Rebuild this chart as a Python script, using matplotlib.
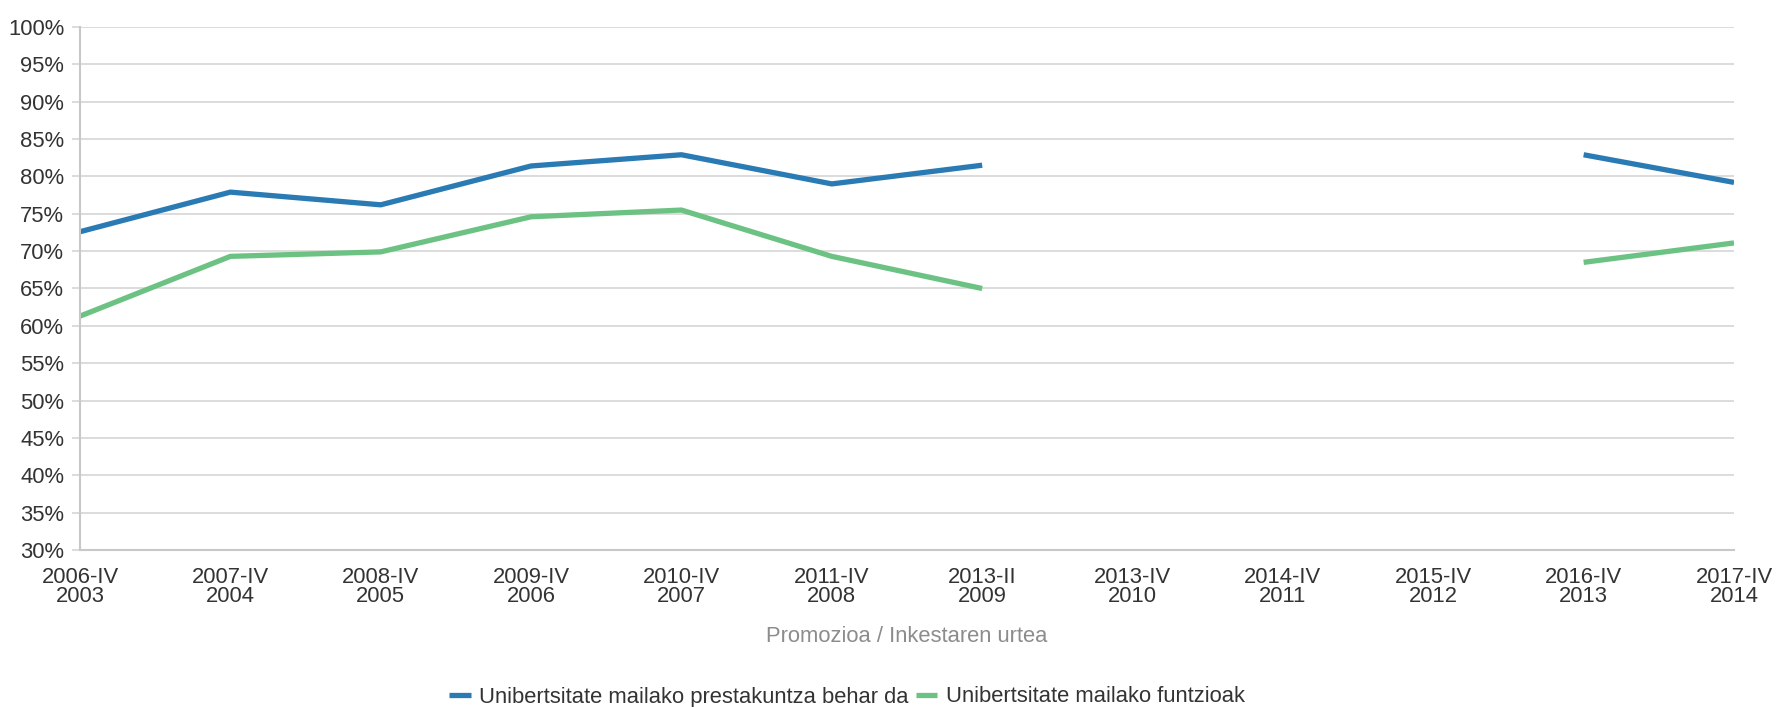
import numpy as np
import matplotlib
matplotlib.use("Agg")
import matplotlib.pyplot as plt
from matplotlib.ticker import PercentFormatter

plt.rcParams['font.family'] = ['Liberation Sans', 'DejaVu Sans']

# data (NaN = no survey value)
categories = ["2006-IV\n2003", "2007-IV\n2004", "2008-IV\n2005", "2009-IV\n2006",
              "2010-IV\n2007", "2011-IV\n2008", "2013-II\n2009", "2013-IV\n2010",
              "2014-IV\n2011", "2015-IV\n2012", "2016-IV\n2013", "2017-IV\n2014"]
prestakuntza = [72.6, 77.9, 76.2, 81.4, 82.9, 79.0, 81.5, np.nan, np.nan, np.nan, 82.9, 79.2]
funtzioak = [61.3, 69.3, 69.9, 74.6, 75.5, 69.3, 65.0, np.nan, np.nan, np.nan, 68.5, 71.1]
series_names = ["Unibertsitate mailako prestakuntza behar da", "Unibertsitate mailako funtzioak"]

blue = "#2a7ab4"
green = "#6cc283"
txt = "#333333"
fs = 15.8

fig = plt.figure(figsize=(17.76, 7.07), dpi=100)
ax = fig.add_axes([80/1776, 1-550/707, (1734-80)/1776, (550-27)/707])

x = np.arange(len(categories))
ax.plot(x, prestakuntza, color=blue, lw=3.8, solid_capstyle='butt', label=series_names[0])
ax.plot(x, funtzioak, color=green, lw=3.8, solid_capstyle='butt', label=series_names[1])

ax.set_xlim(0, len(categories)-1)
ax.set_ylim(30, 100)
ax.set_yticks(np.arange(30, 101, 5))
ax.yaxis.set_major_formatter(PercentFormatter(decimals=0))
ax.set_xticks(x)
ax.set_xticklabels(categories, linespacing=0.88)
ax.grid(axis='y', color="#d9d9d9", lw=1.3)
ax.set_axisbelow(True)

for s in ['top', 'right']:
    ax.spines[s].set_visible(False)
for s in ['left', 'bottom']:
    ax.spines[s].set_color("#c8c8c8")
    ax.spines[s].set_linewidth(1.5)

ax.tick_params(axis='both', labelsize=fs, colors=txt)
ax.tick_params(axis='y', length=5.8, width=1.3, color="#d9d9d9", pad=5.5)
ax.tick_params(axis='x', length=0, pad=12)

ax.set_xlabel("Promozioa / Inkestaren urtea", fontsize=fs, color="#8c8c8c", labelpad=14)

fig.legend(loc='center', bbox_to_anchor=(847/1776, 1-697/707), ncol=2, frameon=False,
           fontsize=fs, handlelength=1.0, handletextpad=0.4, columnspacing=0.3,
           labelcolor=txt)

fig.savefig("out.png", dpi=100)
